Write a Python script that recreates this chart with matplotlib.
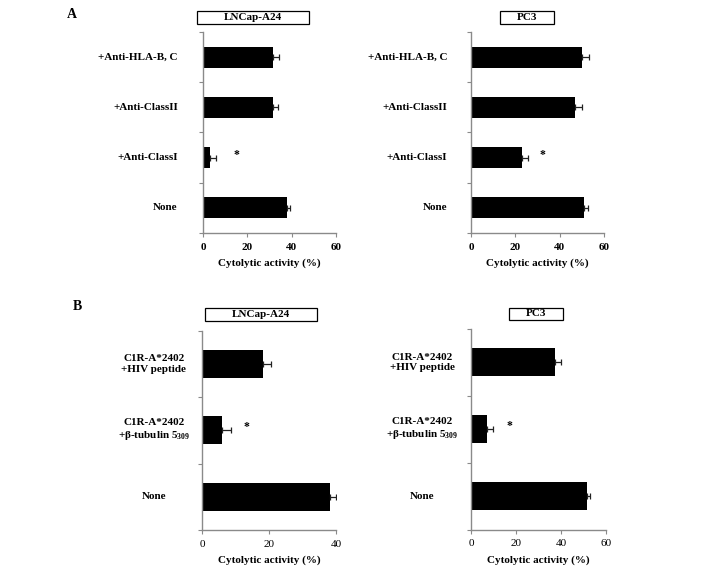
import numpy as np
import matplotlib
matplotlib.use('Agg')
import matplotlib.pyplot as plt
from matplotlib.patches import Rectangle

plt.rcParams['font.family'] = ['Liberation Serif', 'DejaVu Serif']
plt.rcParams['font.weight'] = 'bold'
plt.rcParams['mathtext.fontset'] = 'custom'
plt.rcParams['mathtext.rm'] = 'Liberation Serif'

# panel A data (bottom to top)
cats_a = ['None', '+Anti-ClassI', '+Anti-ClassII', '+Anti-HLA-B, C']
lncap_a = [38.1, 3.3, 31.4, 31.4]
lncap_a_err = [1.2, 2.6, 2.3, 3.0]
pc3_a = [51.2, 23.1, 47.1, 50.1]
pc3_a_err = [1.6, 2.7, 2.8, 3.3]

# panel B data (bottom to top)
cats_b = ['None', 'C1R-A*2402\n+\u03b2-tubulin 5$\\mathregular{_{309}}$', 'C1R-A*2402\n+HIV peptide']
lncap_b = [38.3, 6.1, 18.2]
lncap_b_err = [1.6, 2.6, 2.4]
pc3_b = [51.4, 7.3, 37.3]
pc3_b_err = [1.5, 2.6, 2.5]

W, H = 708, 570
fig = plt.figure(figsize=(W / 100, H / 100), dpi=100)

SPINE = '#8a8a8a'
FS = 7.5


def px_axes(l, t, r, b):
    return fig.add_axes([l / W, 1 - b / H, (r - l) / W, (b - t) / H])


def panel(ax, cats, vals, errs, xmax, step, star_x, star_idx, label_x, label_ha, tick_bold):
    n = len(cats)
    y = np.arange(n)
    ax.barh(y, vals, height=0.42, color='black', zorder=2)
    ax.errorbar(vals, y, xerr=[np.zeros(n), errs], fmt='none', ecolor='#222222',
                elinewidth=0.9, capsize=2.2, capthick=0.9, zorder=3)
    ax.set_xlim(0, xmax)
    ax.set_ylim(-0.5, n - 0.5)
    ax.set_xticks(np.arange(0, xmax + 1, step))
    ax.set_xticklabels([str(v) for v in np.arange(0, xmax + 1, step)],
                       fontsize=FS + 0.5, fontweight='bold' if tick_bold else 'normal')
    ax.set_yticks(np.arange(n + 1) - 0.5)
    ax.set_yticklabels([])
    for s in ['top', 'right']:
        ax.spines[s].set_visible(False)
    for s in ['left', 'bottom']:
        ax.spines[s].set_color(SPINE)
        ax.spines[s].set_linewidth(1.0)
    ax.tick_params(axis='both', colors=SPINE, length=3, width=0.8)
    ax.tick_params(axis='x', labelcolor='black', pad=4)
    ax.set_xlabel('Cytolytic activity (%)', fontsize=FS + 0.5, fontweight='bold', labelpad=5)
    tr = ax.get_yaxis_transform()
    for i, c in enumerate(cats):
        ax.text(label_x, i, c, transform=tr, ha=label_ha, va='center',
                multialignment='center', fontsize=FS + 0.5, fontweight='bold', linespacing=1.25)
    ax.text(star_x, star_idx + 0.05, '*', ha='center', va='center', fontsize=FS + 1, fontweight='bold')


def title_box(l, t, r, b, txt):
    fig.add_artist(Rectangle((l / W, 1 - b / H), (r - l) / W, (b - t) / H,
                             transform=fig.transFigure, facecolor='white',
                             edgecolor='black', linewidth=0.9))
    fig.text((l + r) / 2 / W, 1 - (t + b) / 2 / H, txt, ha='center', va='center',
             fontsize=FS + 0.5, fontweight='bold')


ax1 = px_axes(203, 32, 336, 233)
panel(ax1, cats_a, lncap_a, lncap_a_err, 60, 20, 15, 1, -0.19, 'right', True)
ax2 = px_axes(471, 32, 604, 233)
panel(ax2, cats_a, pc3_a, pc3_a_err, 60, 20, 32.3, 1, -0.18, 'right', True)
ax3 = px_axes(202, 330.5, 336, 530)
panel(ax3, cats_b, lncap_b, lncap_b_err, 40, 20, 13.4, 1, -0.36, 'center', False)
ax4 = px_axes(471, 329, 606, 529.5)
panel(ax4, cats_b, pc3_b, pc3_b_err, 60, 20, 17.2, 1, -0.36, 'center', False)

title_box(197, 11, 309, 24, 'LNCap-A24')
title_box(500, 11, 554, 24, 'PC3')
title_box(205, 308, 317, 321, 'LNCap-A24')
title_box(509, 308, 563, 320, 'PC3')

fig.text(72 / W, 1 - 15 / H, 'A', ha='center', va='center', fontsize=10, fontweight='bold')
fig.text(77 / W, 1 - 307 / H, 'B', ha='center', va='center', fontsize=10, fontweight='bold')

fig.savefig('out.png', dpi=100)
